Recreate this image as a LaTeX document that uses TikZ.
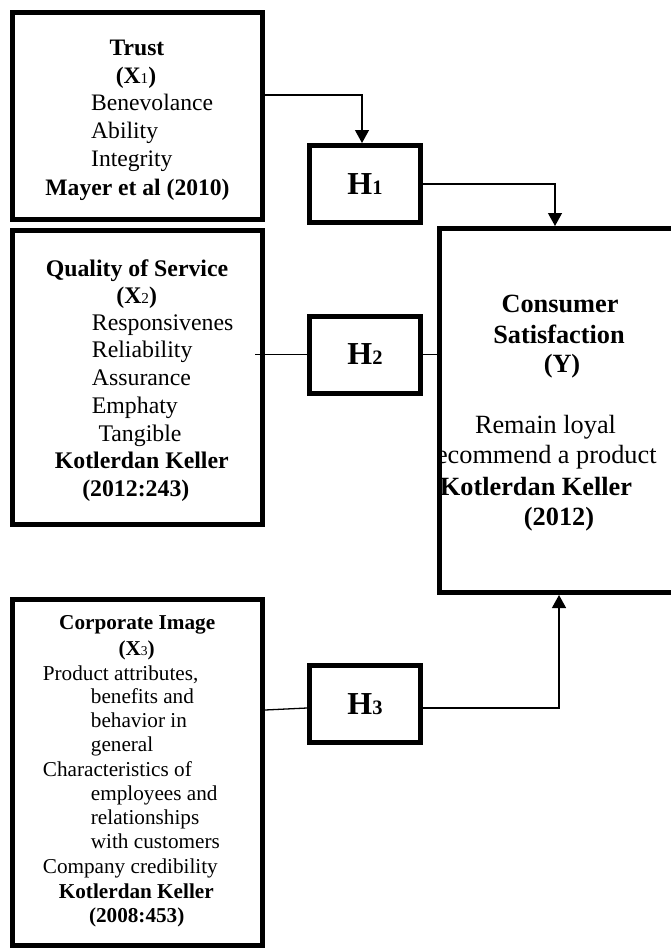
\documentclass[tikz,border=0pt]{standalone}
\usepackage{fontspec}
\setmainfont{Liberation Serif}
\usetikzlibrary{arrows.meta}
\newcommand{\low}[1]{\scalebox{0.64}{#1}}
\tikzset{
  varbox/.style={draw,line width=5pt,minimum width=250pt,inner sep=0pt},
  hypbox/.style={draw,line width=5pt,minimum width=111pt,minimum height=77pt,inner sep=0pt,font=\fontsize{32}{32}\selectfont\bfseries},
  conn/.style={line width=1.3pt},
  head/.style={-{Triangle[length=13pt,width=14pt]}},
  ctxt/.style={inner sep=0pt,anchor=base},
  itxt/.style={inner sep=0pt,anchor=base west},
}
\begin{document}
\begin{tikzpicture}[x=1pt,y=-1pt]
\path[use as bounding box] (0,0) rectangle (671,950);
\clip (0,0) rectangle (671,950);
% boxes
\node[varbox,minimum height=207pt] (trust) at (137.5,116) {};
\node[varbox,minimum height=294pt] (quality) at (137.5,377.5) {};
\node[varbox,minimum height=346pt] (corp) at (137.5,772.5) {};
\node[draw,line width=5pt,minimum width=280pt,minimum height=364pt,inner sep=0pt] (cons) at (579.5,410.5) {};
\node[hypbox] (h1) at (365,184) {H\low{1}};
\node[hypbox] (h2) at (365,354.5) {H\low{2}};
\node[hypbox] (h3) at (365,704) {H\low{3}};
% Trust
\begin{scope}[font=\fontsize{23.6}{27.8}\selectfont]
\foreach \x/\y/\t [count=\i] in {137/56/Trust,136/84/(X{\mdseries\low{1}}),137.5/195/Mayer et al (2010)}{\node[ctxt] (trb\i) at (\x,\y) {\bfseries\t};}
\foreach \y/\t [count=\i] in {110/Benevolance,138/Ability,166/Integrity}{\node[itxt] (tri\i) at (91,\y) {\t};}
\end{scope}
% Quality of Service
\begin{scope}[font=\fontsize{23.8}{27.7}\selectfont]
\foreach \x/\y/\t [count=\i] in {137/276/Quality of Service,136.7/303/(X{\mdseries\low{2}}),141.8/468/Kotlerdan Keller,135.8/496/(2012:243)}{\node[ctxt] (qsb\i) at (\x,\y) {\bfseries\t};}
\foreach \x/\y/\t [count=\i] in {91.7/330/Responsivenes,91.7/357.7/Reliability,91.7/385.7/Assurance,91.7/413/Emphaty,98.3/441/Tangible}{\node[itxt] (qsi\i) at (\x,\y) {\t};}
\end{scope}
% Corporate Image
\begin{scope}[font=\fontsize{21.2}{24.3}\selectfont]
\foreach \x/\y/\t [count=\i] in {137.2/629/Corporate Image,136.7/655/(X{\mdseries\low{3}}),136.3/898/Kotlerdan Keller,136.7/922.7/(2008:453)}{\node[ctxt] (cib\i) at (\x,\y) {\bfseries\t};}
\foreach \x/\y/\t [count=\i] in {42.7/680/{Product attributes,},90.7/703/benefits and,90.7/727.7/behavior in,90.7/751.7/general,42.7/776/Characteristics of,90.7/800/employees and,90.7/824/relationships,90.7/848/with customers,42.7/873/Company credibility}{\node[itxt] (cii\i) at (\x,\y) {\t};}
\end{scope}
% Consumer Satisfaction
\begin{scope}[font=\fontsize{26.3}{30}\selectfont]
\clip (442,231) rectangle (717,590);
\foreach \x/\y/\t [count=\i] in {560/312/Consumer,559/343/Satisfaction,562/372/(Y),536/495/Kotlerdan Keller,559/525/(2012)}{\node[ctxt] (csb\i) at (\x,\y) {\bfseries\t};}
\foreach \x/\y/\t [count=\i] in {545.5/433/Remain loyal,537.5/463/Recommend a product}{\node[ctxt] (csi\i) at (\x,\y) {\t};}
\end{scope}
% connectors
\coordinate (q2) at (255,354.5);
\draw[conn,head] ([yshift=21pt]trust.east) -| ([xshift=-3pt]h1.north);
\draw[conn,head] (h1.east) -| ([xshift=-24.5pt]cons.north);
\draw[conn] (q2) -- (h2.west);
\draw[conn] (h2.east) -- (h2.east -| cons.west);
\draw[conn] ([yshift=62.5pt]corp.east) -- ([yshift=-4pt]h3.west);
\draw[conn,head] ([yshift=-4pt]h3.east) -| ([xshift=-20.5pt]cons.south);
\end{tikzpicture}
\end{document}
